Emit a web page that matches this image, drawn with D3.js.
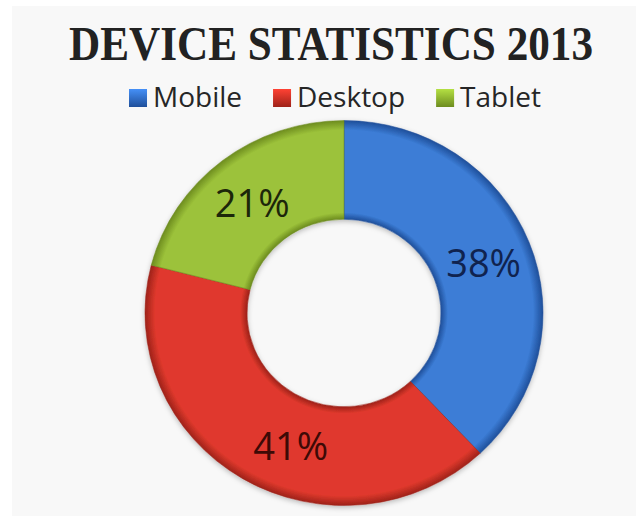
<!DOCTYPE html>
<html>
<head>
<meta charset="utf-8">
<script src="https://cdn.jsdelivr.net/npm/d3@7"></script>
<style>
  html, body { margin: 0; padding: 0; background: #ffffff; }
  svg { display: block; }
</style>
</head>
<body>
<svg id="chart" width="636" height="516"></svg>
<script>
// Device share, 2013
const categories = ["Mobile", "Desktop", "Tablet"];
const shares = [38, 41, 21];
const labels = ["38%", "41%", "21%"];
const title = "DEVICE STATISTICS 2013";

const width = 636, height = 516;
const cx = 344, cy = 313;
const outerR = 199, innerR = 97;
const squash = 0.967;

const colors = d3.scaleOrdinal()
  .domain(categories)
  .range(["#3c7dd6", "#e0392d", "#9cc23a"]);
const rimColors = d3.scaleOrdinal()
  .domain(categories)
  .range(["#1f4f9a", "#9e2219", "#6d8c1f"]);
const inkColors = d3.scaleOrdinal()
  .domain(categories)
  .range(["#10234f", "#3d0a06", "#1c260a"]);

const svg = d3.select("#chart");
const defs = svg.append("defs");

// page panel
svg.append("rect")
  .attr("x", 12).attr("y", 6)
  .attr("width", width - 12).attr("height", height - 6)
  .attr("fill", "#f8f8f8");

// bevel gradients: darker at the inner and outer rims
categories.forEach((c, i) => {
  const g = defs.append("radialGradient")
    .attr("id", "bevel" + i)
    .attr("gradientUnits", "userSpaceOnUse")
    .attr("cx", 0).attr("cy", 0).attr("r", outerR);
  const f = innerR / outerR;
  g.append("stop").attr("offset", f).attr("stop-color", rimColors(c));
  g.append("stop").attr("offset", f + 0.035).attr("stop-color", colors(c));
  g.append("stop").attr("offset", 0.95).attr("stop-color", colors(c));
  g.append("stop").attr("offset", 1).attr("stop-color", rimColors(c));

  const lg = defs.append("linearGradient")
    .attr("id", "swatch" + i)
    .attr("x1", 0).attr("y1", 0).attr("x2", 0).attr("y2", 1);
  lg.append("stop").attr("offset", 0).attr("stop-color", d3.color(colors(c)).brighter(0.4));
  lg.append("stop").attr("offset", 1).attr("stop-color", rimColors(c));
});

const shadow = defs.append("filter").attr("id", "shadow")
  .attr("x", "-10%").attr("y", "-10%").attr("width", "120%").attr("height", "120%");
shadow.append("feDropShadow")
  .attr("dx", 0).attr("dy", 2).attr("stdDeviation", 2.5)
  .attr("flood-color", "#000").attr("flood-opacity", 0.25);

// title, condensed horizontally to fit the heading band
const titleG = svg.append("g").attr("transform", "translate(331,60) scale(0.9,1)");
titleG.append("text")
  .attr("x", 0).attr("y", 0)
  .attr("text-anchor", "middle")
  .attr("font-family", "'Liberation Serif', 'DejaVu Serif', serif")
  .attr("font-weight", "bold")
  .attr("font-size", 48)
  .attr("fill", "#222222")
  .text(title);

// legend
const legend = svg.append("g");
const items = legend.selectAll("g.item").data(categories).join("g").attr("class", "item");
items.append("rect")
  .attr("width", 18).attr("height", 18)
  .attr("y", 89)
  .attr("fill", (d, i) => `url(#swatch${i})`);
items.append("text")
  .attr("y", 107)
  .attr("font-family", "'Open Sans', 'Noto Sans', sans-serif")
  .attr("font-size", 28)
  .attr("fill", "#262626")
  .text(d => d);

let x = 0;
items.each(function () {
  const it = d3.select(this);
  it.select("rect").attr("x", x);
  const t = it.select("text").attr("x", x + 24);
  x += 24 + t.node().getComputedTextLength() + 31;
});
const legendW = x - 31;
legend.attr("transform", `translate(${335 - legendW / 2},0)`);

// doughnut
const pie = d3.pie().sort(null).value(d => d.value);
const arcs = pie(categories.map((c, i) => ({ name: c, value: shares[i], label: labels[i] })));
const arc = d3.arc().innerRadius(innerR).outerRadius(outerR);
const labelArc = d3.arc().innerRadius((innerR + outerR) / 2).outerRadius((innerR + outerR) / 2);

const ring = svg.append("g")
  .attr("transform", `translate(${cx},${cy}) scale(1,${squash})`)
  .attr("filter", "url(#shadow)");

ring.selectAll("path")
  .data(arcs)
  .join("path")
  .attr("d", arc)
  .attr("fill", (d, i) => `url(#bevel${i})`)
  .attr("stroke", (d) => rimColors(d.data.name))
  .attr("stroke-width", 0.8)
  .attr("stroke-opacity", 0.7);

// value labels near each slice centroid
const nudge = { Mobile: [2, 3], Desktop: [22, 10], Tablet: [-1, 3] };
svg.append("g").selectAll("text")
  .data(arcs)
  .join("text")
  .attr("x", d => cx + labelArc.centroid(d)[0] + nudge[d.data.name][0])
  .attr("y", d => cy + labelArc.centroid(d)[1] * squash + nudge[d.data.name][1])
  .attr("dy", "0.36em")
  .attr("text-anchor", "middle")
  .attr("font-family", "'Open Sans', 'Noto Sans', sans-serif")
  .attr("font-size", 38)
  .attr("fill", d => inkColors(d.data.name))
  .text(d => d.data.label);
</script>
</body>
</html>
